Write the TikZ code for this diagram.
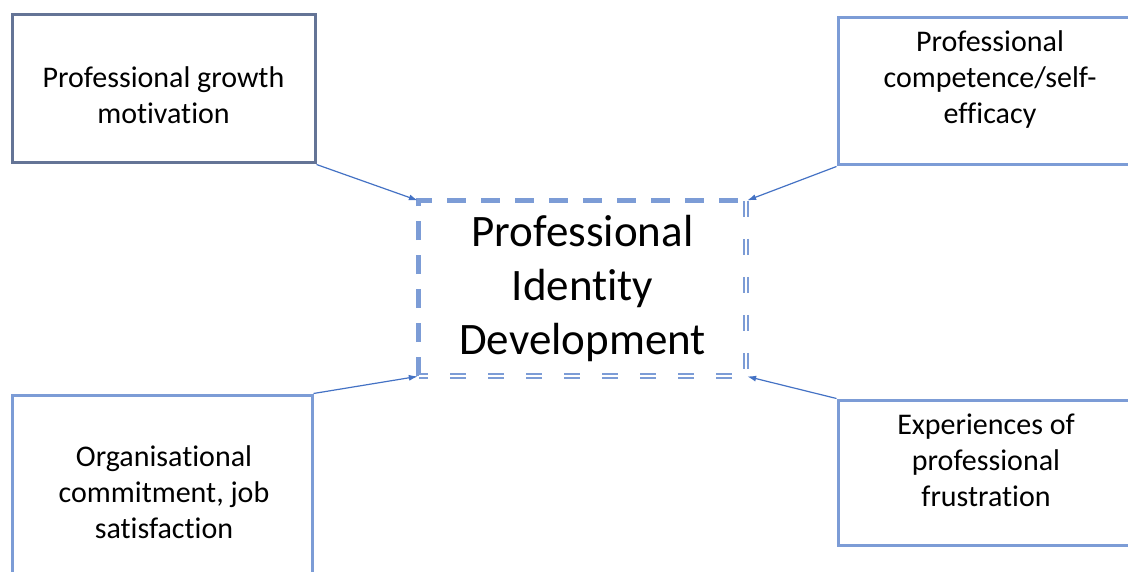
\documentclass[tikz,border=0pt]{standalone}
\usepackage{fontspec}
\setmainfont{Carlito}[Ligatures=NoCommon]
\usetikzlibrary{arrows.meta}
\definecolor{boxblue}{RGB}{124,156,214}
\definecolor{boxdark}{RGB}{100,116,150}
\definecolor{linkblue}{RGB}{68,114,196}

\begin{document}
\begin{tikzpicture}[x=1pt,y=-1pt,
box/.style = {draw=boxblue, line width=3pt, inner sep=0pt},
lbl/.style = {align=center, font=\fontsize{30}{36}\selectfont},
link/.style = {draw=linkblue, line width=1.2pt, -{Latex[length=9pt,width=6pt]}, shorten >=1pt}]
\useasboundingbox (0,0) rectangle (1128,572);
% outer boxes
\node[box, draw=boxdark, minimum width=303pt, minimum height=148pt,
      label={[lbl,yshift=-6pt]center:{Professional growth\\motivation}}] (growth) at (163.5,89) {};
\node[box, minimum width=304pt, minimum height=147pt,
      label={[lbl,yshift=11.5pt]center:{Professional\\competence/self-\\efficacy}}] (competence) at (990,91.5) {};
\node[box, minimum width=300pt, minimum height=195pt,
      label={[lbl,xshift=2pt]center:{Organisational\\commitment, job\\satisfaction}}] (commitment) at (162,492.5) {};
\node[box, minimum width=302pt, minimum height=145pt,
      label={[lbl,xshift=-3pt,yshift=12.5pt]center:{Experiences of\\professional\\frustration}}] (frustration) at (989,472.5) {};
% centre
\node[align=center, font=\fontsize{45}{54}\selectfont, minimum width=327pt, minimum height=175pt] (pid) at (582.5,288.5) {Professional\\Identity\\Development};
\draw[boxblue, line width=5pt, dash pattern=on 19pt off 15pt] (pid.south west) -- (pid.north west) -- (pid.north east);
\draw[boxblue, line width=2pt, double=white, double distance=2.5pt, dash pattern=on 16pt off 22pt] (pid.north east) -- (pid.south east) -- (pid.south west);
% links
\draw[link] (growth.south east) -- (pid.north west);
\draw[link] (competence.south west) -- (pid.north east);
\draw[link] (commitment.north east) -- (pid.south west);
\draw[link] (frustration.north west) -- (pid.south east);
\end{tikzpicture}
\end{document}
